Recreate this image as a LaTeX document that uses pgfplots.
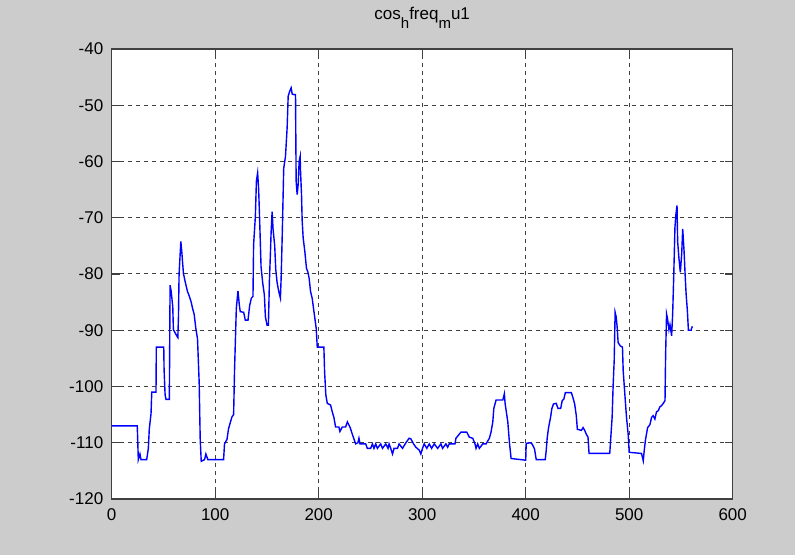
\documentclass[border=0pt]{standalone}
\usepackage{fontspec}
\setmainfont{Liberation Sans}
\usepackage{pgfplots}
\pgfplotsset{compat=1.18}
\definecolor{figgray}{RGB}{204,204,204}
\definecolor{axgray}{RGB}{64,64,64}
\newcommand{\sub}[1]{\raisebox{-4.5pt}{\fontsize{7.5}{8}\selectfont #1}}
\begin{document}
\begin{tikzpicture}[x=1pt,y=1pt]
\fill[figgray] (0,0) rectangle (397.5,277.5);
\begin{axis}[
  name=ax,
  at={(55.85pt,28pt)}, anchor=south west,
  scale only axis, width=310.5pt, height=225pt,
  xmin=0, xmax=600, ymin=-120, ymax=-40,
  xtick={0,100,...,600}, ytick={-120,-110,...,-40},
  axis background/.style={fill=white},
  axis line style={axgray, line width=0.6pt},
  grid=major,
  grid style={black!75, dash pattern=on 2pt off 2pt, line width=0.5pt},
  tick align=inside, tick pos=both, major tick length=4pt,
  tick style={axgray, line width=0.6pt},
  ticklabel style={font=\fontsize{8.5}{10}\selectfont},
  /pgf/number format/assume math mode=true,
  xticklabel style={yshift=-1.2pt},
  yticklabel style={xshift=-0.7pt},
]
\addplot[blue, line width=0.7pt] coordinates {
(0,-107) (24.7,-107) (25.7,-113) (27.3,-112) (28.3,-113) (33.8,-113) (35.4,-111)
(36.3,-107.6) (38,-104.8) (38.7,-101) (42.8,-101) (43.1,-93) (50.3,-93) (50.6,-97)
(51.6,-101.5) (52.5,-102.3) (55.7,-102.3) (56.4,-82) (57.4,-83) (59,-85.8) (59.6,-89.9)
(62.9,-91) (63.9,-91.3) (64.5,-87.6) (65.1,-80) (66.8,-74.2) (67.7,-76) (69.3,-79.9)
(70.9,-81.3) (73.2,-83.1) (75.1,-84) (76.8,-85) (78,-86) (79.7,-87.2) (81.3,-89.7)
(82.9,-91.5) (84.5,-99.2) (85.5,-109.3) (86.5,-113.3) (89.7,-113) (91,-112) (92.9,-113)
(108.1,-113) (109,-110.2) (111.4,-109.4) (112.9,-107.5) (114.6,-106.4) (116.2,-105.4)
(117.8,-105) (118.7,-97) (120.4,-86.1) (122,-83) (123.3,-85.5) (124.2,-86.7) (127.5,-86.8)
(129.1,-88.2) (131.7,-88.2) (133.3,-85.6) (134.9,-84.3) (136.5,-84) (137.1,-74.8)
(138.8,-69.8) (139.8,-63.5) (141,-62) (142,-65) (143,-70.7) (144.3,-78.7) (145.9,-81.6)
(147.5,-83.7) (148.5,-87.6) (150.1,-89.1) (151.4,-89.1) (152.4,-81.1) (153.3,-76.6)
(154,-72.7) (155,-68.9) (155.9,-72) (157.5,-75) (158.5,-79.2) (159.8,-81.5) (161.4,-83.1)
(163,-84.3) (163.7,-80.8) (164.7,-73.6) (166.2,-61.2) (167.9,-59.1) (169.5,-54)
(170.5,-48.4) (172,-47.5) (173.4,-46.9) (174.4,-48) (175.9,-48.1) (177.6,-48.1)
(178.2,-63.5) (179.2,-65.9) (180.2,-64) (181.1,-60) (182.1,-59.1) (182.4,-61.5)
(183.4,-65.9) (184,-70.4) (185,-73.6) (186.6,-76) (188.2,-79) (189.5,-79.6) (190.8,-80.8)
(192.1,-83.1) (193.7,-84.3) (195,-86.1) (196.3,-87.9) (197.6,-89.7) (198.6,-93) (205,-93)
(205.7,-97.4) (206.9,-101.5) (208.3,-103) (211.5,-103.3) (213.1,-104.5) (214.7,-105.5)
(216.3,-107.2) (219.5,-107.2) (220.5,-108) (222.8,-107.2) (226,-107.2) (227.7,-106.3)
(230.2,-107.2) (232.5,-108.5) (235.7,-110.2) (237.9,-110) (238.9,-109.2) (239.9,-110.2)
(245.4,-110.2) (247,-111) (250.2,-111) (251.9,-110.2) (253.4,-111) (255.1,-110.2)
(256.7,-111) (259.9,-110.2) (261.6,-111) (264.8,-110.2) (267,-111) (268,-110.2)
(269.6,-111) (271.3,-112) (272.8,-111) (276.1,-111) (277.7,-110.2) (281,-111)
(284.2,-110) (287.4,-109.2) (289,-109.3) (291.6,-110.2) (293.9,-110.8) (297.1,-111.3)
(298.7,-112) (300.3,-111) (301.9,-110.2) (304.5,-111) (306.8,-110.2) (309.1,-111)
(311.6,-110.2) (314.9,-111) (318.1,-110.2) (319.7,-111) (322.9,-110.2) (324.6,-110.8)
(326.1,-110.2) (331.7,-110.2) (332.6,-109.2) (337.5,-108.1) (343,-108.1) (345.5,-109)
(348.8,-109.2) (351,-110.2) (352,-111) (353.6,-110.2) (355.2,-111) (358.5,-110.2)
(361.7,-110.2) (364.9,-109.2) (366.5,-108.1) (368.2,-106.3) (369.2,-103.9) (371.4,-102.4)
(377.9,-102.4) (379.4,-101.3) (380.1,-103) (382.7,-106.3) (384.3,-110) (385.9,-112.8)
(400,-113.1) (400.5,-110.1) (405.3,-110) (407,-110.5) (408.5,-111.1) (410.2,-113)
(418.9,-113) (419.8,-111.4) (420.8,-109.1) (422.1,-107.3) (424,-105.5) (425.3,-103.9)
(426.9,-103.1) (429.5,-103) (431.2,-103.9) (433.8,-103.9) (435.3,-102.5) (436.9,-102.2)
(438.3,-101.1) (444.1,-101.1) (445.7,-102) (447.3,-103.1) (448.9,-105.2) (449.9,-107.6)
(453.8,-107.8) (455.4,-107.3) (457,-107.8) (458.6,-108.5) (460.2,-109) (461.2,-111.9)
(481.2,-111.9) (482.2,-109.1) (483.5,-105.5) (484.5,-99.7) (485.5,-95.4) (486.4,-86.8)
(487.4,-87.6) (488.4,-89.5) (489.3,-92.2) (491.5,-92.8) (493.5,-93) (494.2,-97.2)
(495.8,-101.4) (497.4,-105.5) (499,-108.5) (500,-111.7) (511.9,-111.9) (513.6,-113.2)
(514.5,-111.4) (515.8,-109.4) (517.8,-107.3) (520,-106.8) (521.6,-105.5) (523.2,-105.2)
(524.8,-105.8) (526.4,-104.5) (528.1,-104.3) (529.7,-103.6) (531.3,-103.4) (532.9,-103)
(534.6,-102.5) (535.2,-94.2) (536.1,-87.1) (537.1,-88) (538.4,-89.9) (539.4,-89)
(541,-91) (542,-87.1) (542.9,-81.2) (543.6,-76.2) (544.2,-71.7) (545.2,-69.3)
(546.2,-67.8) (546.8,-74.2) (548.1,-77.3) (549.4,-79.7) (550.7,-76.5) (551.7,-72)
(553,-75.9) (554,-80) (555,-83.6) (556.2,-86.5) (557.2,-90) (559.7,-90) (561,-89.3)
};
\end{axis}
\node[anchor=base, inner sep=0pt, font=\fontsize{8.5}{10}\selectfont]
  at ([yshift=14.5pt]ax.north) {cos\sub{h}freq\sub{m}u1};
\pgfresetboundingbox
\useasboundingbox (0,0) rectangle (397.5,277.5);
\end{tikzpicture}
\end{document}
